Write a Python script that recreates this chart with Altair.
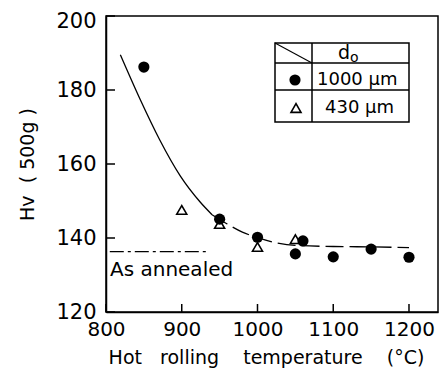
import altair as alt
import pandas as pd

# ---- data ----
circ_temp = [850, 950, 1000, 1050, 1060, 1100, 1150, 1200]
circ_hv = [186.2, 145.1, 140.2, 135.7, 139.2, 134.9, 137.0, 134.8]
tri_temp = [900, 950, 1000, 1050]
tri_hv = [147.6, 143.8, 137.6, 139.7]
fit_solid_temp = [819, 845, 871, 898, 924, 940]
fit_solid_hv = [189.5, 177.5, 166.5, 156.8, 149.8, 146.3]
fit_dash_temp = [940, 960, 980, 1000, 1025, 1050, 1100, 1150, 1200]
fit_dash_hv = [146.3, 143.8, 141.6, 140.1, 138.7, 138.0, 137.7, 137.6, 137.4]
annealed_temp = [805, 933]
annealed_hv = [136.3, 136.3]
x_ticks = [800, 900, 1000, 1100, 1200]
y_ticks = [120, 140, 160, 180, 200]

W, H = 332, 296
FONT = "DejaVu Sans"
NB = "\u00a0"

xs = alt.Scale(domain=[800, 1238.3], nice=False)
ys = alt.Scale(domain=[120, 200], nice=False)

circ = pd.DataFrame({"t": circ_temp, "hv": circ_hv})
tri = pd.DataFrame({"t": tri_temp, "hv": tri_hv})
solid = pd.DataFrame({"t": fit_solid_temp, "hv": fit_solid_hv})
dash = pd.DataFrame({"t": fit_dash_temp, "hv": fit_dash_hv})
ann = pd.DataFrame({"t": annealed_temp, "hv": annealed_hv})
xt = pd.DataFrame({"t": x_ticks})
yt = pd.DataFrame({"hv": y_ticks})

x_title = "Hot" + NB * 3 + "rolling" + NB * 4 + "temperature" + NB * 4 + "(°C)"
y_title = "Hv" + NB * 2 + "(" + NB + "500g" + NB + ")"

X = alt.X("t:Q", scale=xs, axis=alt.Axis(
    values=x_ticks, format="d", ticks=False, grid=False, labelFlush=False,
    labelFontSize=20, title=x_title, labelPadding=7,
    titleBaseline="alphabetic", titleY=51, titleX=160, titleAnchor="middle"))
Y = alt.Y("hv:Q", scale=ys, axis=alt.Axis(
    values=y_ticks, format="d", ticks=False, grid=False, labelFlush=False,
    labelOffset=alt.condition("datum.value == 200", alt.value(5), alt.value(0)),
    title=y_title, labelPadding=10, titlePadding=18))

base_circ = alt.Chart(circ).mark_point(
    shape="circle", filled=True, color="black", size=125, opacity=1
).encode(x=X, y=Y)
base_tri = alt.Chart(tri).mark_point(
    shape="triangle-up", filled=False, color="black", size=100, strokeWidth=1.6, opacity=1
).encode(x="t:Q", y="hv:Q")
line_solid = alt.Chart(solid).mark_line(
    color="black", strokeWidth=1.3, interpolate="monotone"
).encode(x="t:Q", y="hv:Q")
line_dash = alt.Chart(dash).mark_line(
    color="black", strokeWidth=1.3, interpolate="monotone", strokeDash=[18, 6]
).encode(x="t:Q", y="hv:Q")
line_ann = alt.Chart(ann).mark_line(
    color="black", strokeWidth=1.3, strokeDash=[14, 4, 3, 4]
).encode(x="t:Q", y="hv:Q")
ann_text = alt.Chart(pd.DataFrame({"s": ["As annealed"]})).mark_text(
    align="left", baseline="middle", font=FONT, fontSize=20, color="black"
).encode(x=alt.value(4), y=alt.value(254), text="s:N")

xticks = alt.Chart(xt).mark_rule(color="black", strokeWidth=1.5).encode(
    x="t:Q", y=alt.value(H), y2=alt.value(H - 8))
yticks = alt.Chart(yt).mark_rule(color="black", strokeWidth=1.5).encode(
    y="hv:Q", x=alt.value(0), x2=alt.value(9))

# legend table
one = pd.DataFrame({"k": [0]})
L, R, T, B = 169, 303, 27, 106
DV, H1, H2 = 206, 47, 74
box = alt.Chart(one).mark_rect(fill=None, stroke="black", strokeWidth=1.5).encode(
    x=alt.value(L), x2=alt.value(R), y=alt.value(T), y2=alt.value(B))
vdiv = alt.Chart(one).mark_rule(color="black", strokeWidth=1.5).encode(
    x=alt.value(DV), y=alt.value(T), y2=alt.value(B))
hdiv1 = alt.Chart(one).mark_rule(color="black", strokeWidth=1.5).encode(
    x=alt.value(L), x2=alt.value(R), y=alt.value(H1))
hdiv2 = alt.Chart(one).mark_rule(color="black", strokeWidth=1.5).encode(
    x=alt.value(L), x2=alt.value(R), y=alt.value(H2))
diag = alt.Chart(one).mark_rule(color="black", strokeWidth=1.1).encode(
    x=alt.value(L), x2=alt.value(DV), y=alt.value(T), y2=alt.value(H1))
leg_circ = alt.Chart(one).mark_point(
    shape="circle", filled=True, color="black", size=125, opacity=1
).encode(x=alt.value(189), y=alt.value(64))
leg_tri = alt.Chart(one).mark_point(
    shape="triangle-up", filled=False, color="black", size=100, strokeWidth=1.6, opacity=1
).encode(x=alt.value(190), y=alt.value(92))
leg_d = alt.Chart(pd.DataFrame({"s": ["d"]})).mark_text(
    align="left", baseline="middle", font=FONT, fontSize=19, color="black"
).encode(x=alt.value(232), y=alt.value(37), text="s:N")
leg_o = alt.Chart(pd.DataFrame({"s": ["o"]})).mark_text(
    align="left", baseline="middle", font=FONT, fontSize=14, color="black"
).encode(x=alt.value(244), y=alt.value(42), text="s:N")
leg_t1 = alt.Chart(pd.DataFrame({"s": ["1000" + NB + "μm"]})).mark_text(
    align="left", baseline="middle", font=FONT, fontSize=18, color="black"
).encode(x=alt.value(211), y=alt.value(64), text="s:N")
leg_t2 = alt.Chart(pd.DataFrame({"s": ["430" + NB + "μm"]})).mark_text(
    align="left", baseline="middle", font=FONT, fontSize=18, color="black"
).encode(x=alt.value(219), y=alt.value(92), text="s:N")

chart = alt.layer(
    base_circ, base_tri, line_solid, line_dash, line_ann, ann_text,
    xticks, yticks, box, vdiv, hdiv1, hdiv2, diag,
    leg_circ, leg_tri, leg_d, leg_o, leg_t1, leg_t2,
).properties(
    width=W, height=H, autosize="none",
    padding={"left": 98, "top": 8, "right": 1, "bottom": 56},
    background="white",
).configure_view(
    stroke="black", strokeWidth=1.5
).configure_axis(
    labelFont=FONT, labelFontSize=21, labelColor="black",
    titleFont=FONT, titleFontSize=19, titleFontWeight="normal", titleColor="black",
    domainColor="black", domainWidth=1.5,
)

chart.save("out.html", embed_options={"renderer": "svg", "actions": False})
